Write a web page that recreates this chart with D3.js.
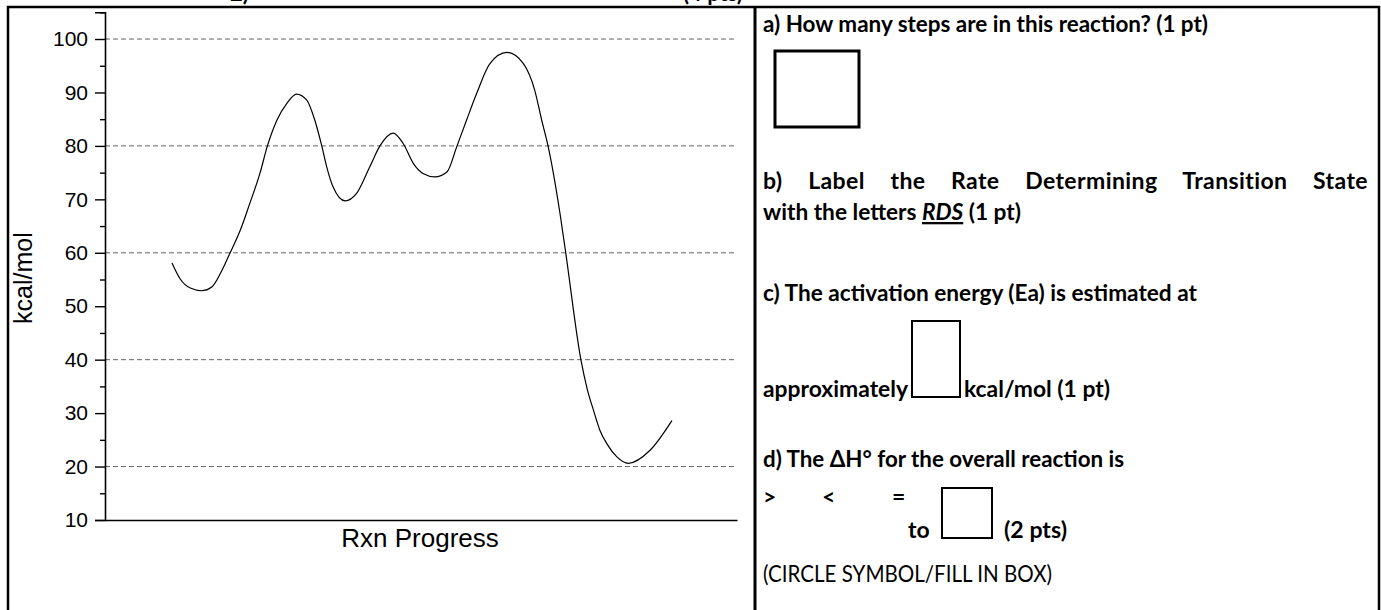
<!DOCTYPE html>
<html><head><meta charset="utf-8">
<script src="https://cdn.jsdelivr.net/npm/d3@7"></script>
<style>body{margin:0;background:#fff;overflow:hidden} svg{display:block}</style>
</head><body>
<script>
// ---- data ----
const progress = [10.6,11.9,13.5,15.3,16.9,18.5,19.8,21.4,22.9,24.5,25.7,27.2,28.8,30.3,31.9,33.2,34.3,35.1,36.1,38.0,39.8,41.9,43.5,45.6,47.2,48.8,50.4,52.2,54.1,55.7,57.2,58.8,60.9,63.6,66.2,68.0,69.1,70.1,72.0,72.9,75.3,76.3,77.3,78.3,79.4,81.0,82.8,86.2,89.7];
const energy   = [58.1,55.1,53.4,52.9,53.6,56.7,60.0,64.2,69.2,74.8,80.0,84.8,88.0,89.7,88.6,84.8,80.0,76.0,72.3,69.7,71.1,76.1,80.0,82.4,80.4,76.7,74.8,74.2,75.1,80.0,84.8,89.8,95.4,97.5,95.4,90.4,84.8,80.0,67.3,60.0,40.0,34.5,30.5,26.8,24.3,21.8,20.6,23.0,28.6];
const majorTicks = [10,20,30,40,50,60,70,80,90,100];
const minorTicks = [15,25,35,45,55,65,75,85,95,105];
const gridValues = [20,40,60,80,100];
const yTitle = "kcal/mol";
const xTitle = "Rxn Progress";

const W = 1381, H = 610;
const svg = d3.select("body").append("svg").attr("width", W).attr("height", H);

// table frame
svg.append("rect").attr("x", 8).attr("y", 7).attr("width", 1371).attr("height", 640)
  .attr("fill", "none").attr("stroke", "#000").attr("stroke-width", 2.5);
svg.append("line").attr("x1", 755).attr("x2", 755).attr("y1", 7).attr("y2", 615)
  .attr("stroke", "#000").attr("stroke-width", 3);

// clipped text of the previous row (only its lower part is visible)
const hdr = svg.append("g").attr("font-family", "Lato, sans-serif").attr("font-weight", 700).attr("font-size", 22);
hdr.append("text").attr("x", 230).attr("y", 1).text("2)");
hdr.append("text").attr("x", 683).attr("y", 1).text("(4 pts)");

// scales
const x = d3.scaleLinear().domain([0, 100]).range([105, 737]);
const y = d3.scaleLinear().domain([10, 105]).range([520, 12.3]);

// gridlines
svg.append("g").selectAll("line").data(gridValues).join("line")
  .attr("x1", x(0)).attr("x2", 735)
  .attr("y1", d => y(d)).attr("y2", d => y(d))
  .attr("stroke", "#666").attr("stroke-width", 1).attr("stroke-dasharray", "5,3");

// y axis
const yAxis = d3.axisLeft(y).tickValues(majorTicks).tickSize(10).tickPadding(7).tickFormat(d3.format("d"));
const gy = svg.append("g").attr("transform", `translate(${x(0)},0)`).call(yAxis);
gy.select(".domain").attr("stroke-width", 1.6);
gy.selectAll(".tick line").attr("stroke-width", 1.4);
gy.selectAll("text").attr("font-family", "'Liberation Sans', Arial, sans-serif").attr("font-size", 21).attr("fill", "#000");
const yMinor = d3.axisLeft(y).tickValues(minorTicks).tickSize(5).tickFormat("");
const gym = svg.append("g").attr("transform", `translate(${x(0)},0)`).call(yMinor);
gym.select(".domain").remove();
gym.selectAll(".tick line").attr("stroke-width", 1.4);

// x axis
const xAxis = d3.axisBottom(x).tickValues([]).tickSizeOuter(0);
const gx = svg.append("g").attr("transform", `translate(0,${y(10)})`).call(xAxis);
gx.select(".domain").attr("stroke-width", 1.6);

// axis titles
svg.append("text").attr("transform", `translate(32,${(y(105)+y(10))/2 + 12}) rotate(-90)`)
  .attr("text-anchor", "middle").attr("font-family", "'Liberation Sans', Arial, sans-serif")
  .attr("font-size", 25).text(yTitle);
svg.append("text").attr("x", 420).attr("y", 547).attr("text-anchor", "middle")
  .attr("font-family", "'Liberation Sans', Arial, sans-serif").attr("font-size", 26).text(xTitle);

// curve
const pts = progress.map((p, i) => [p, energy[i]]);
const line = d3.line().x(d => x(d[0])).y(d => y(d[1])).curve(d3.curveMonotoneX);
svg.append("path").attr("d", line(pts)).attr("fill", "none").attr("stroke", "#000").attr("stroke-width", 1.2);

// right panel
const rp = svg.append("g").attr("font-family", "Lato, sans-serif").attr("font-weight", 700).attr("font-size", 23).attr("fill", "#000");
const txt = (t, xx, yy, len) => {
  const e = rp.append("text").attr("x", xx).attr("y", yy).text(t);
  if (len) e.attr("textLength", len).attr("lengthAdjust", "spacingAndGlyphs");
  return e;
};
const box = (x0, y0, w, h, sw) => rp.append("rect").attr("x", x0).attr("y", y0).attr("width", w).attr("height", h)
  .attr("fill", "none").attr("stroke", "#000").attr("stroke-width", sw);

txt("a) How many steps are in this reaction? (1 pt)", 763, 32, 445);
box(775, 51, 84, 76, 3);

// justified line: slight letter spacing, rest into word spaces
const b1 = rp.append("text").attr("x", 763).attr("y", 189).attr("letter-spacing", 0.4)
  .text("b) Label the Rate Determining Transition State");
const nat = b1.node().getComputedTextLength();
const nSp = b1.text().split(" ").length - 1;
b1.attr("word-spacing", Math.max(0, (605 - nat) / nSp));

const b2 = rp.append("text").attr("x", 763).attr("y", 220).attr("textLength", 258).attr("lengthAdjust", "spacingAndGlyphs");
b2.append("tspan").text("with the letters ");
b2.append("tspan").attr("font-style", "italic").attr("text-decoration", "underline").text("RDS");
b2.append("tspan").text(" (1 pt)");

txt("c) The activation energy (Ea) is estimated at", 763, 301, 434);
txt("approximately", 763, 397, 145);
box(912, 321, 48, 76, 2);
txt("kcal/mol (1 pt)", 964, 397, 146);

txt("d) The ΔH° for the overall reaction is", 763, 467, 361);
txt(">", 763, 505);
txt("<", 822, 505);
txt("=", 892, 505);
txt("to", 908, 538);
box(942, 488, 50, 50, 2);
txt("(2 pts)", 1004, 538, 63);
txt("(CIRCLE SYMBOL/FILL IN BOX)", 763, 582, 289).attr("font-weight", 400);
</script>
</body></html>
